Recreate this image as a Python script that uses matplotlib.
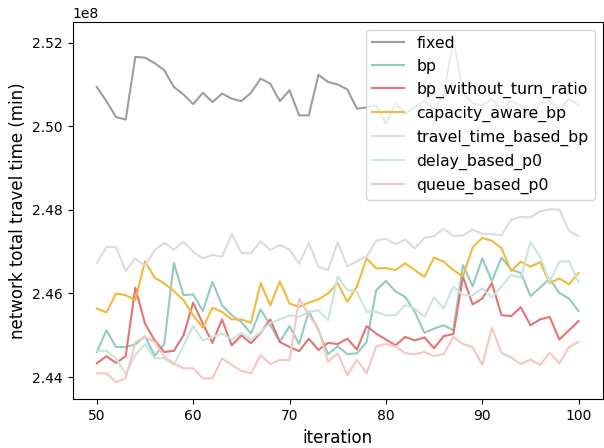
import numpy as np
import matplotlib
matplotlib.use("Agg")
import matplotlib.pyplot as plt

iterations = list(range(50, 101))

fixed = [2.5094, 2.5060, 2.5022, 2.5016, 2.5166, 2.5164, 2.5151, 2.5134, 2.5094, 2.5076,
         2.5053, 2.5080, 2.5058, 2.5078, 2.5066, 2.5060, 2.5080, 2.5114, 2.5102, 2.5060,
         2.5086, 2.5026, 2.5026, 2.5123, 2.5106, 2.5100, 2.5088, 2.5042, 2.5045, 2.5050,
         2.5006, 2.5054, 2.5030, 2.5045, 2.5060, 2.5040, 2.5075, 2.5209, 2.5080, 2.5055,
         2.5050, 2.5065, 2.5040, 2.5060, 2.5050, 2.5020, 2.5055, 2.5060, 2.5040, 2.5065,
         2.5050]

bp = [2.4460, 2.4512, 2.4472, 2.4472, 2.4478, 2.4498, 2.4451, 2.4479, 2.4673, 2.4596,
      2.4598, 2.4558, 2.4628, 2.4572, 2.4548, 2.4532, 2.4504, 2.4562, 2.4524, 2.4484,
      2.4522, 2.4479, 2.4558, 2.4512, 2.4455, 2.4474, 2.4455, 2.4457, 2.4484, 2.4608,
      2.4630, 2.4605, 2.4592, 2.4556, 2.4506, 2.4516, 2.4524, 2.4512, 2.4668, 2.4617,
      2.4684, 2.4630, 2.4686, 2.4657, 2.4649, 2.4594, 2.4614, 2.4636, 2.4601, 2.4588,
      2.4558]

bp_without_turn_ratio = [2.4433, 2.4450, 2.4434, 2.4450, 2.4614, 2.4528, 2.4488, 2.4460, 2.4463, 2.4500,
                         2.4578, 2.4528, 2.4482, 2.4538, 2.4476, 2.4500, 2.4481, 2.4506, 2.4538, 2.4484,
                         2.4472, 2.4462, 2.4492, 2.4465, 2.4482, 2.4479, 2.4492, 2.4466, 2.4522, 2.4504,
                         2.4490, 2.4476, 2.4496, 2.4488, 2.4495, 2.4469, 2.4498, 2.4503, 2.4640, 2.4574,
                         2.4588, 2.4625, 2.4548, 2.4546, 2.4567, 2.4524, 2.4538, 2.4544, 2.4490, 2.4512,
                         2.4534]

capacity_aware_bp = [2.4564, 2.4555, 2.4600, 2.4596, 2.4584, 2.4677, 2.4638, 2.4624, 2.4606, 2.4584,
                     2.4548, 2.4518, 2.4566, 2.4556, 2.4538, 2.4538, 2.4530, 2.4625, 2.4572, 2.4629,
                     2.4576, 2.4568, 2.4578, 2.4586, 2.4600, 2.4625, 2.4580, 2.4617, 2.4684, 2.4660,
                     2.4661, 2.4656, 2.4672, 2.4656, 2.4640, 2.4686, 2.4676, 2.4656, 2.4641, 2.4710,
                     2.4733, 2.4726, 2.4708, 2.4654, 2.4676, 2.4664, 2.4675, 2.4625, 2.4636, 2.4622,
                     2.4649]

travel_time_based_bp = [2.4673, 2.4711, 2.4711, 2.4654, 2.4684, 2.4665, 2.4704, 2.4721, 2.4705, 2.4724,
                        2.4700, 2.4684, 2.4692, 2.4688, 2.4743, 2.4697, 2.4696, 2.4725, 2.4704, 2.4716,
                        2.4705, 2.4671, 2.4721, 2.4664, 2.4656, 2.4723, 2.4665, 2.4677, 2.4689, 2.4726,
                        2.4731, 2.4718, 2.4729, 2.4708, 2.4733, 2.4737, 2.4755, 2.4737, 2.4739, 2.4753,
                        2.4743, 2.4742, 2.4739, 2.4777, 2.4783, 2.4782, 2.4797, 2.4801, 2.4801, 2.4750,
                        2.4737]

delay_based_p0 = [2.4463, 2.4463, 2.4445, 2.4407, 2.4453, 2.4479, 2.4445, 2.4445, 2.4429, 2.4476,
                  2.4522, 2.4488, 2.4496, 2.4504, 2.4490, 2.4506, 2.4490, 2.4508, 2.4530, 2.4538,
                  2.4548, 2.4544, 2.4556, 2.4560, 2.4536, 2.4641, 2.4608, 2.4604, 2.4556, 2.4556,
                  2.4548, 2.4548, 2.4572, 2.4564, 2.4544, 2.4591, 2.4564, 2.4617, 2.4596, 2.4596,
                  2.4612, 2.4590, 2.4617, 2.4644, 2.4638, 2.4723, 2.4688, 2.4628, 2.4676, 2.4677,
                  2.4628]

queue_based_p0 = [2.4409, 2.4409, 2.4388, 2.4397, 2.4484, 2.4496, 2.4484, 2.4449, 2.4433, 2.4421,
                  2.4421, 2.4397, 2.4397, 2.4445, 2.4429, 2.4415, 2.4409, 2.4453, 2.4431, 2.4441,
                  2.4441, 2.4588, 2.4548, 2.4516, 2.4437, 2.4457, 2.4405, 2.4441, 2.4409, 2.4474,
                  2.4479, 2.4474, 2.4457, 2.4455, 2.4460, 2.4450, 2.4455, 2.4496, 2.4479, 2.4472,
                  2.4429, 2.4518, 2.4458, 2.4447, 2.4431, 2.4442, 2.4429, 2.4458, 2.4433, 2.4472,
                  2.4484]

series_names = ["fixed", "bp", "bp_without_turn_ratio", "capacity_aware_bp",
                "travel_time_based_bp", "delay_based_p0", "queue_based_p0"]
series_values = [fixed, bp, bp_without_turn_ratio, capacity_aware_bp,
                 travel_time_based_bp, delay_based_p0, queue_based_p0]
colors = ["#a19d9b", "#92cbc1", "#e57373", "#f2b93b", "#dcdcdc", "#c9e6de", "#f6c6c6"]

fig = plt.figure(figsize=(6.04, 4.48), dpi=100)
ax = fig.add_axes([72.7 / 604, 1 - 399.3 / 448, 530 / 604, 377.6 / 448])

for name, vals, c in zip(series_names, series_values, colors):
    ax.plot(iterations, np.array(vals) * 1e8, color=c, lw=1.5, label=name)

ax.set_xlabel("iteration", fontsize=12)
ax.set_ylabel("network total travel time (min)", fontsize=12)
ax.set_xticks([50, 60, 70, 80, 90, 100])
ax.legend(loc="upper right", fontsize=11.3)

fig.savefig("out.png", dpi=100)
